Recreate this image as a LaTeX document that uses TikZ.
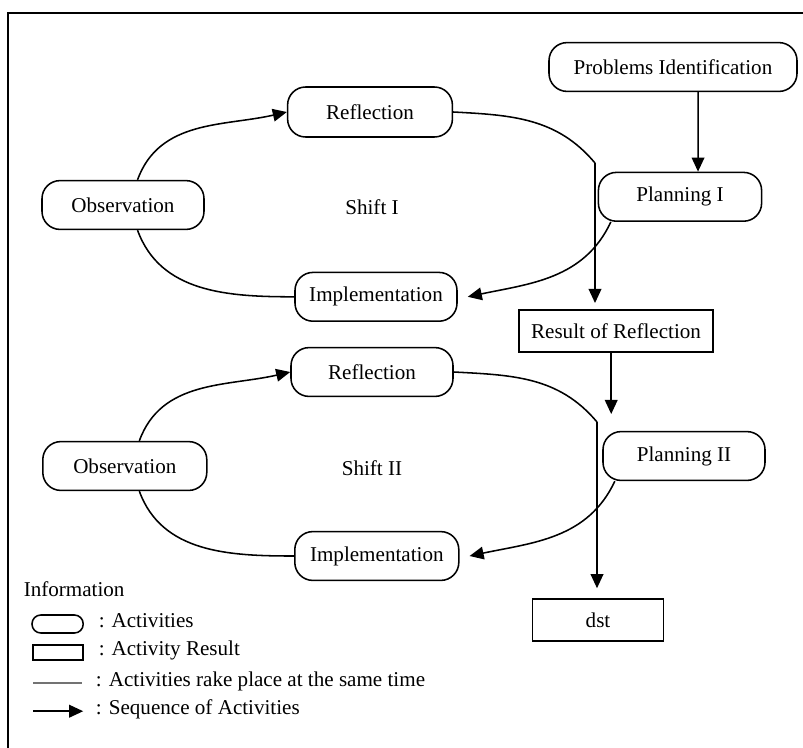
\documentclass[tikz,border=0pt]{standalone}
\usepackage{fontspec}
\setmainfont{Liberation Serif}
\usepackage{tikz}
\usetikzlibrary{arrows.meta}
\usetikzlibrary{positioning}

\begin{document}
\begin{tikzpicture}[
	line width=1.1pt,
	font=\fontsize{15}{18}\selectfont,
	>={Triangle[length=10pt,width=9pt]}
]
\tikzset{
    myact/.style = {rectangle, draw=black, rounded corners=0.45cm, align=center, minimum width=4.05cm, minimum height=1.22cm},
    myres/.style = {rectangle, draw=black, align=center, minimum height=1.05cm},
    mytxt/.style = {align=left, anchor=west, inner sep=0pt}
}
\useasboundingbox (0,0) rectangle (20.075,-18.675);
\draw (0.2,-18.9) |- (20.3,-0.325);
% shift I
\node[myact,minimum width=6.2cm] (probid) at (16.825,-1.675) {Problems Identification};
\node[myact,minimum width=4.12cm,minimum height=1.25cm] (refl1) at (9.25,-2.8) {Reflection};
\node[myact] (obs1) at (3.075,-5.125) {Observation};
\node[] (shift1) at (9.3,-5.17) {Shift I};
\node[myact,minimum width=4.08cm] (plan1) at (17.0,-4.92) {Planning I};
\node[myact] (impl1) at (9.4,-7.42) {Implementation};
\node[myres,minimum width=4.85cm] (result) at (15.4,-8.27) {Result of Reflection};
\coordinate (bend1) at (14.875,-4.075);
% shift II
\node[myact] (refl2) at (9.3,-9.3) {Reflection};
\node[myact,minimum width=4.1cm] (obs2) at (3.12,-11.65) {Observation};
\node[] (shift2) at (9.3,-11.7) {Shift II};
\node[myact] (plan2) at (17.1,-11.4) {Planning II};
\node[myact,minimum width=4.1cm] (impl2) at (9.42,-13.9) {Implementation};
\node[myres,minimum width=3.28cm] (dst) at (14.95,-15.5) {dst};
\coordinate (bend2) at (14.925,-10.55);

\draw[->] ([xshift=0.63cm]probid.south) -- ([xshift=0.45cm]plan1.north);
\draw[->] (obs1.60) to[out=70,in=193] (refl1.west);
\draw (obs1.-60) to[out=-70,in=180] (impl1.west);
\draw[->] (plan1.200) to[out=-115,in=12] ([xshift=0.25cm]impl1.east);
\draw (refl1.east) to[out=-3,in=130] (bend1);
\draw[->,shorten >=0.15cm] (bend1) -- (bend1 |- result.north);

\draw[->,shorten >=0.42cm] ([xshift=-0.12cm]result.south) -- ([xshift=-0.12cm]result.south |- plan2.north);
\draw[->] (obs2.60) to[out=70,in=193] (refl2.west);
\draw (obs2.-60) to[out=-70,in=180] (impl2.west);
\draw[->] (plan2.200) to[out=-115,in=12] ([xshift=0.25cm]impl2.east);
\draw (refl2.east) to[out=-3,in=130] (bend2);
\draw[->,shorten >=0.25cm] (bend2) -- (bend2 |- dst.north);

% legend
\node[mytxt] (info) at (0.575,-14.72) {Information};
\node[rectangle,draw=black,rounded corners=0.22cm,minimum width=1.28cm,minimum height=0.45cm] (legact) at (1.44,-15.6) {};
\node[mytxt] (txtact) at (2.45,-15.52) {: Activities};
\node[rectangle,draw=black,minimum width=1.25cm,minimum height=0.38cm] (legres) at (1.45,-16.31) {};
\node[mytxt] (txtres) at (2.45,-16.27) {: Activity Result};
\coordinate (legline) at (0.83,-17.08);
\draw[black!55] (legline) -- ++(1.22,0);
\node[mytxt] (txtline) at (2.38,-17.04) {: Activities rake place at the same time};
\coordinate (legarr) at (0.83,-17.78);
\draw[->] (legarr) -- ++(1.25,0);
\node[mytxt] (txtarr) at (2.38,-17.74) {: Sequence of Activities};
\end{tikzpicture}
\end{document}
